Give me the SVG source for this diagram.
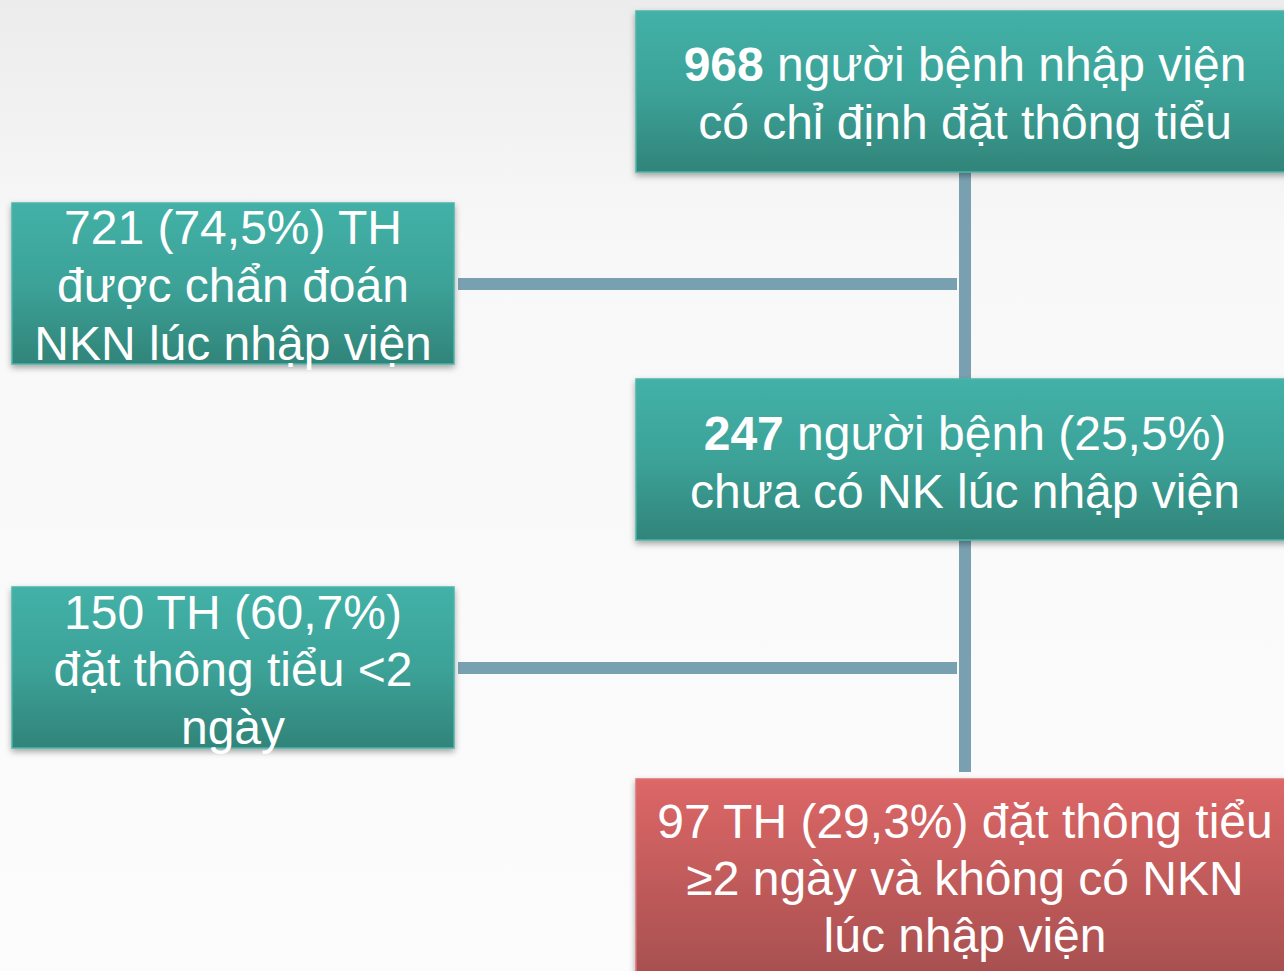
<svg xmlns="http://www.w3.org/2000/svg" width="1284" height="971" viewBox="0 0 1284 971">
  <defs>
    <linearGradient id="bg" x1="0" y1="0" x2="0" y2="1">
      <stop offset="0" stop-color="#ececec"/>
      <stop offset="0.25" stop-color="#f8f8f8"/>
      <stop offset="1" stop-color="#fcfcfc"/>
    </linearGradient>
    <linearGradient id="teal" x1="0" y1="0" x2="0" y2="1">
      <stop offset="0" stop-color="#43b1a7"/>
      <stop offset="0.5" stop-color="#3ca298"/>
      <stop offset="1" stop-color="#318479"/>
    </linearGradient>
    <linearGradient id="red" x1="0" y1="0" x2="0" y2="1">
      <stop offset="0" stop-color="#dd6767"/>
      <stop offset="1" stop-color="#a64f4f"/>
    </linearGradient>
    <filter id="sh" x="-10%" y="-10%" width="120%" height="130%">
      <feDropShadow dx="0" dy="3" stdDeviation="3" flood-color="#000" flood-opacity="0.35"/>
    </filter>
  </defs>
  <style>
    .box { filter: url(#sh); stroke-width: 1.5; }
    .t { fill: url(#teal); stroke: #4ab5ab; }
    .r { fill: url(#red); stroke: #e07070; }
    .txt { font-family: "Liberation Sans", Arial, sans-serif; font-size: 48px; fill: #ffffff; text-anchor: middle; }
    .b { font-weight: bold; }
    .conn { fill: #79a0b1; }
  </style>
  <rect x="0" y="0" width="1284" height="971" fill="url(#bg)"/>

  <g id="connectors">
    <rect class="conn" x="959" y="172" width="12" height="207"/>
    <rect class="conn" x="458" y="278" width="499" height="12"/>
    <rect class="conn" x="959" y="540" width="12" height="232"/>
    <rect class="conn" x="458" y="662" width="499" height="12"/>
  </g>

  <g id="n1">
    <rect class="box t" x="636" y="11" width="660" height="161"/>
    <text class="txt" x="965" y="81"><tspan class="b">968</tspan> người bệnh nhập viện</text>
    <text class="txt" x="965" y="139">có chỉ định đặt thông tiểu</text>
  </g>

  <g id="n2">
    <rect class="box t" x="12" y="203" width="442" height="161"/>
    <text class="txt" x="233" y="244">721 (74,5%) TH</text>
    <text class="txt" x="233" y="302">được chẩn đoán</text>
    <text class="txt" x="233" y="360">NKN lúc nhập viện</text>
  </g>

  <g id="n3">
    <rect class="box t" x="636" y="379" width="660" height="161"/>
    <text class="txt" x="965" y="450"><tspan class="b">247</tspan> người bệnh (25,5%)</text>
    <text class="txt" x="965" y="508">chưa có NK lúc nhập viện</text>
  </g>

  <g id="n4">
    <rect class="box t" x="12" y="587" width="442" height="161"/>
    <text class="txt" x="233" y="629">150 TH (60,7%)</text>
    <text class="txt" x="233" y="686">đặt thông tiểu &lt;2</text>
    <text class="txt" x="233" y="744">ngày</text>
  </g>

  <g id="n5">
    <rect class="box r" x="636" y="779" width="660" height="200"/>
    <text class="txt" x="965" y="838">97 TH (29,3%) đặt thông tiểu</text>
    <text class="txt" x="965" y="895">≥2 ngày và không có NKN</text>
    <text class="txt" x="965" y="952">lúc nhập viện</text>
  </g>
</svg>
